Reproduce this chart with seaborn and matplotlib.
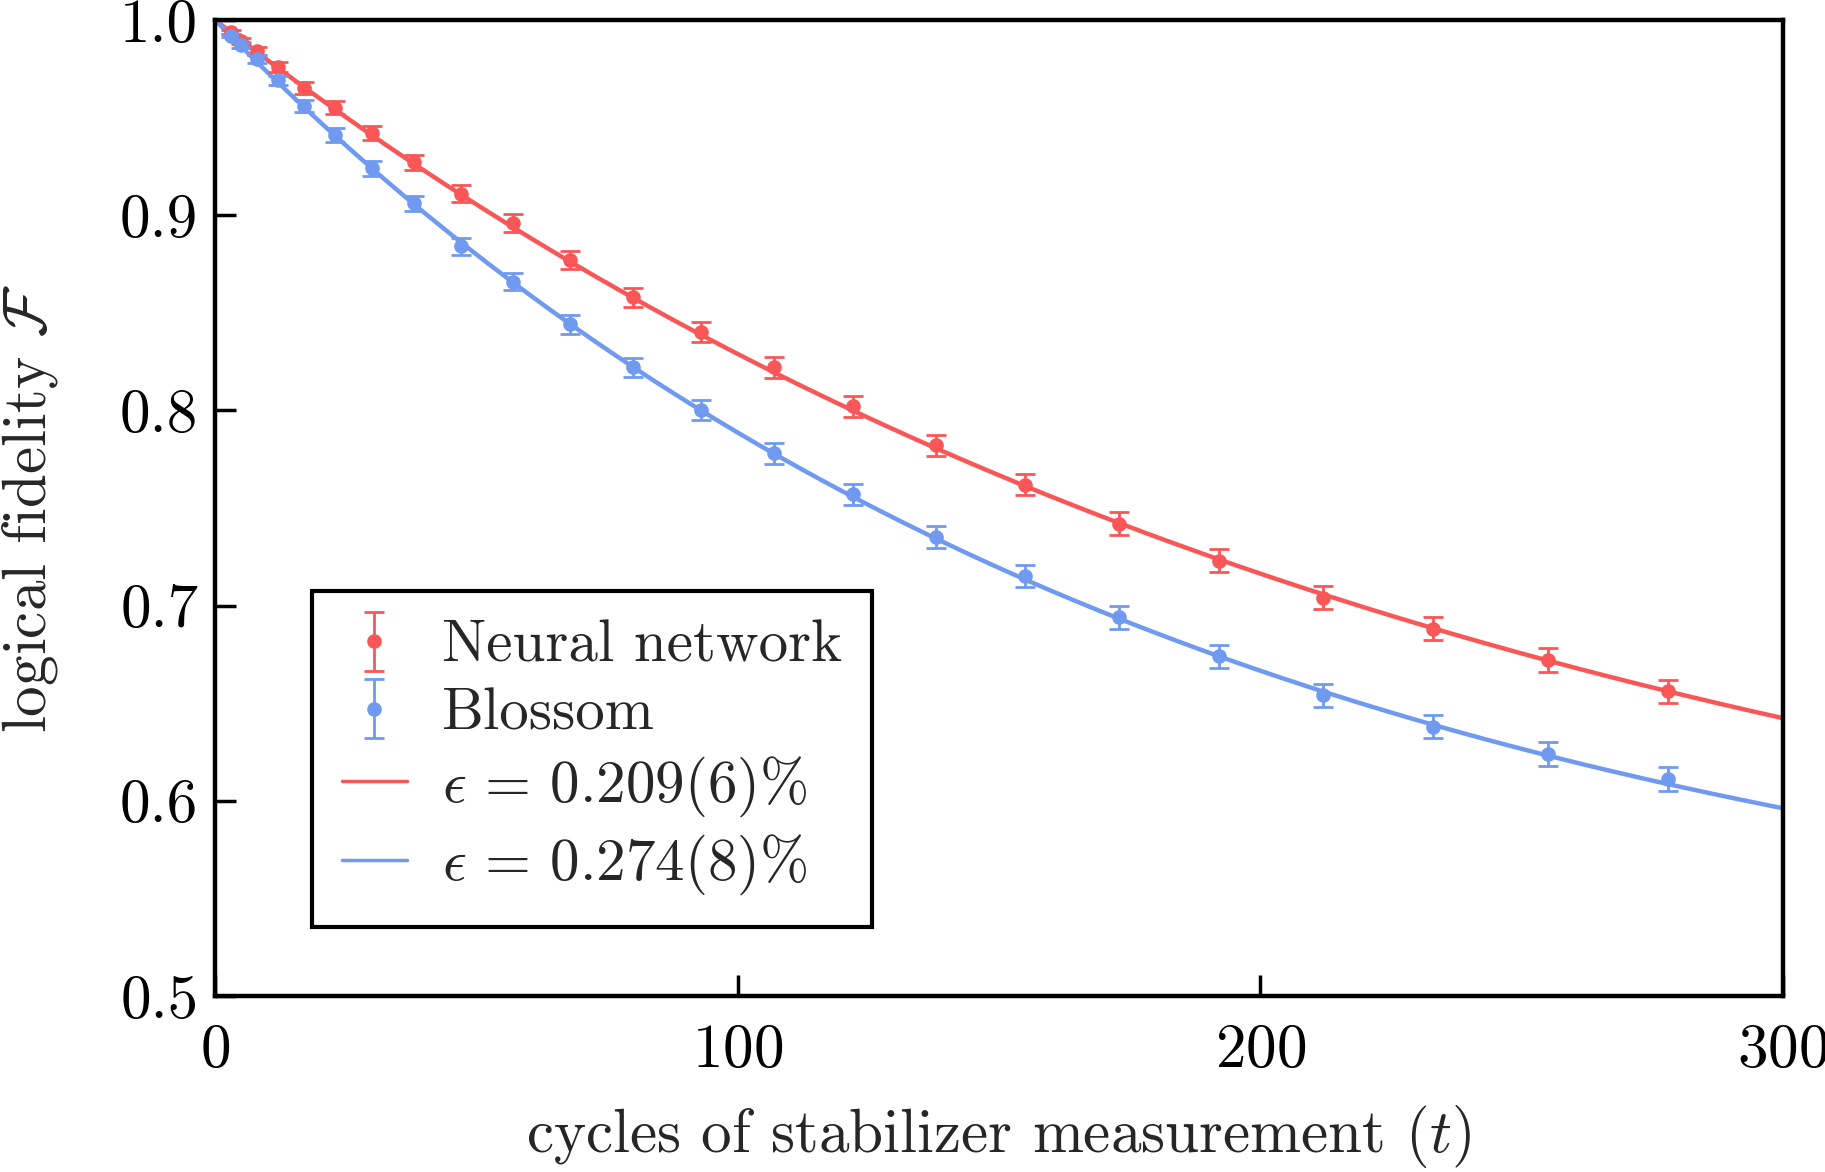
import numpy as np
import pandas as pd
import matplotlib
matplotlib.use("Agg")
import matplotlib.pyplot as plt
import seaborn as sns

# cycles t at which fidelity was measured
t_points = [3, 5, 8, 12, 17, 23, 30, 38, 47, 57, 68, 80, 93, 107, 122, 138,
            155, 173, 192, 212, 233, 255, 278]

# neural network decoder
nn_fid = [0.994, 0.989, 0.984, 0.976, 0.965, 0.955, 0.942, 0.927, 0.911, 0.896,
          0.877, 0.858, 0.840, 0.822, 0.802, 0.782, 0.762, 0.742, 0.723, 0.704,
          0.688, 0.672, 0.656]
nn_err = [0.001, 0.0015, 0.002, 0.0025, 0.003, 0.0033, 0.0036, 0.004, 0.0043, 0.0045,
          0.0047, 0.0049, 0.005, 0.0052, 0.0053, 0.0055, 0.0056, 0.0057, 0.0058, 0.0058,
          0.0059, 0.006, 0.006]

# blossom decoder
bl_fid = [0.992, 0.987, 0.980, 0.969, 0.956, 0.941, 0.924, 0.906, 0.884, 0.866,
          0.844, 0.822, 0.800, 0.778, 0.757, 0.735, 0.715, 0.694, 0.674, 0.654,
          0.638, 0.624, 0.611]
bl_err = [0.001, 0.0015, 0.002, 0.0025, 0.003, 0.0034, 0.0037, 0.004, 0.0044, 0.0046,
          0.0048, 0.005, 0.0052, 0.0053, 0.0055, 0.0056, 0.0057, 0.0058, 0.0059, 0.006,
          0.006, 0.0061, 0.0062]

# fitted logical error rates per cycle
eps_nn = 0.00209
eps_bl = 0.00274
fit_labels = [r"$\epsilon\,=\,0.209(6)\%$", r"$\epsilon\,=\,0.274(8)\%$"]

red = "#F95757"
blue = "#7099F0"

sns.set_style("ticks")
plt.rcParams["font.family"] = ["cmr10", "DejaVu Serif"]
plt.rcParams["mathtext.fontset"] = "cm"
plt.rcParams["axes.formatter.use_mathtext"] = True
plt.rcParams["font.size"] = 44

fig = plt.figure(figsize=(18.25, 11.72), dpi=100)
ax = fig.add_axes([0.1178, 0.1502, 0.8592, 0.8328])

# fit curves F(t) = 1/2 + 1/2 (1 - 2 eps)^t
t_fit = np.linspace(0, 300, 301)
fits = pd.DataFrame({
    "t": np.concatenate([t_fit, t_fit]),
    "F": np.concatenate([0.5 + 0.5 * (1 - 2 * eps_nn) ** t_fit,
                         0.5 + 0.5 * (1 - 2 * eps_bl) ** t_fit]),
    "fit": [fit_labels[0]] * len(t_fit) + [fit_labels[1]] * len(t_fit),
})
sns.lineplot(data=fits, x="t", y="F", hue="fit", palette=[red, blue],
             linewidth=3.2, ax=ax, legend=False)

h_nn = ax.errorbar(t_points, nn_fid, yerr=nn_err, fmt="o", color=red, ms=9.5,
                   elinewidth=2.0, capsize=7, capthick=2.0, zorder=3)
h_bl = ax.errorbar(t_points, bl_fid, yerr=bl_err, fmt="o", color=blue, ms=9.5,
                   elinewidth=2.0, capsize=7, capthick=2.0, zorder=3)

ax.set_xlim(0, 300)
ax.set_ylim(0.5, 1.0)
ax.set_xticks([0, 100, 200, 300])
ax.set_yticks([0.5, 0.6, 0.7, 0.8, 0.9, 1.0])
ax.set_yticklabels(["0.5", "0.6", "0.7", "0.8", "0.9", "1.0"])
ax.tick_params(direction="in", length=15, width=2.5, labelsize=44, colors="black")
ax.tick_params(axis="x", pad=20)
ax.tick_params(axis="y", pad=12)
for s in ax.spines.values():
    s.set_linewidth(3.2)
    s.set_color("black")

ax.set_xlabel(r"cycles of stabilizer measurement ($t$)", fontsize=44, labelpad=17)
ax.set_ylabel(r"logical fidelity $\mathcal{F}$", fontsize=44, labelpad=43)

l_nn, = ax.plot([], [], color=red, linewidth=2.5)
l_bl, = ax.plot([], [], color=blue, linewidth=2.5)
leg = ax.legend([h_nn, h_bl, l_nn, l_bl],
                ["Neural network", "Blossom"] + fit_labels,
                loc="lower left", bbox_to_anchor=(0.062, 0.0707), borderaxespad=0,
                fontsize=42.5, frameon=True, fancybox=False, framealpha=1,
                edgecolor="black", handlelength=1.1, handletextpad=0.6,
                labelspacing=0.23, borderpad=0.5)
leg.get_frame().set_linewidth(3.0)

fig.savefig("out.png", dpi=100)
